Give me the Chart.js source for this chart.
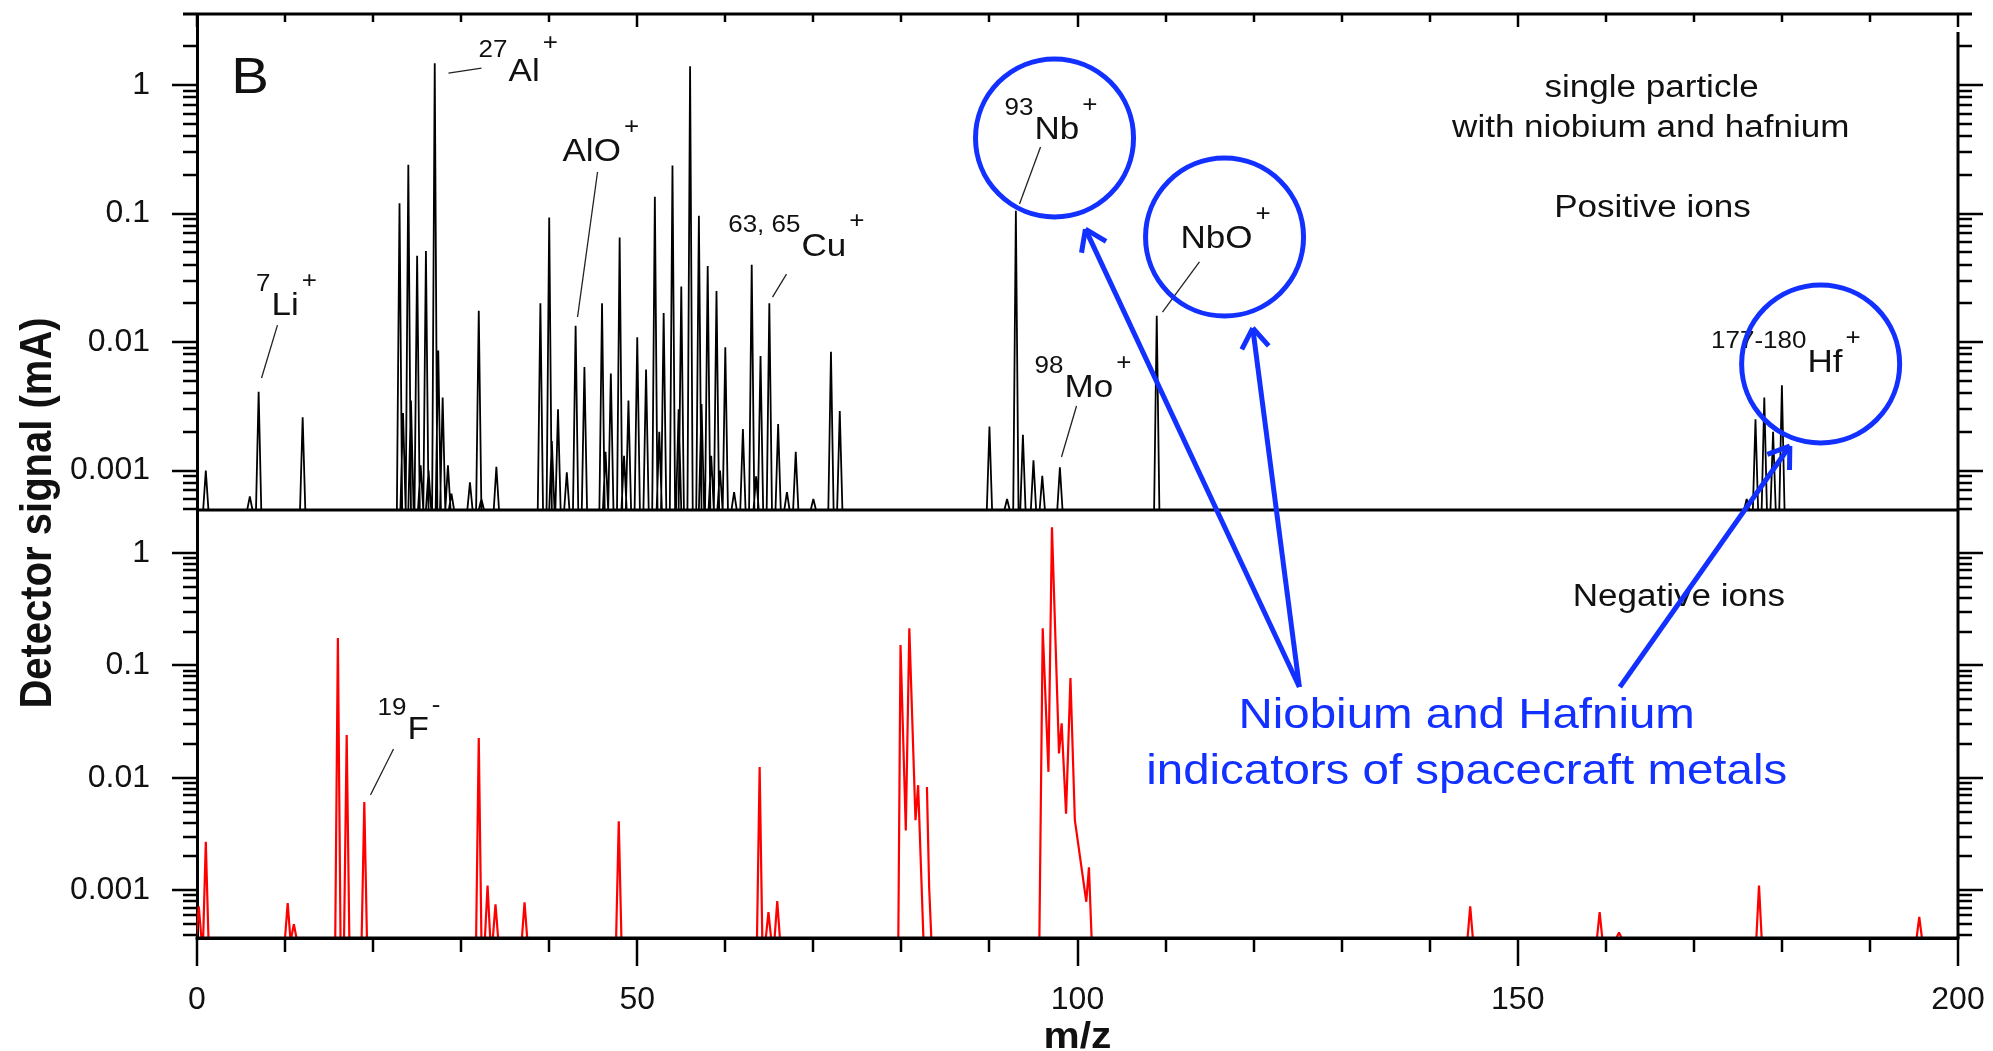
<!DOCTYPE html>
<html>
<head>
<meta charset="utf-8">
<title>Single particle spectrum with niobium and hafnium</title>
<script src="https://cdn.jsdelivr.net/npm/chart.js@4.4.1/dist/chart.umd.min.js"></script>
<style>
  html, body { margin: 0; padding: 0; background: #fff; }
  #spectrum { display: block; }
</style>
</head>
<body>
<canvas id="spectrum" width="1993" height="1051"></canvas>
<script>
// positive ions: peak position (m/z) and peak height (mA)
const posMz = [1, 6, 7, 12,
  23, 23.4, 24, 24.3, 25, 25.4, 26, 26.3, 27, 27.4, 27.9, 28.5, 28.9, 31, 32, 32.3, 34,
  39, 40, 40.3, 41, 42, 43, 44, 46, 46.4, 47, 48, 48.5, 49, 50, 51, 52, 52.5, 53, 54, 54.7, 55,
  56, 57, 57.3, 58, 58.4, 59, 59.4, 60, 61, 62, 63, 63.5, 64, 65, 66, 67, 68, 70, 72, 73,
  90, 92, 93, 93.8, 95, 96, 98, 109,
  176, 177, 178, 179, 180];
const posSignal = [0.001, 0.00063, 0.0041, 0.0026,
  0.12, 0.0028, 0.24, 0.0035, 0.047, 0.0011, 0.051, 0.001, 1.48, 0.0086, 0.0037, 0.0011, 0.00066, 0.00081, 0.0175, 0.0006, 0.00107,
  0.02, 0.093, 0.0017, 0.003, 0.00097, 0.0134, 0.0064, 0.02, 0.0014, 0.0057, 0.065, 0.0013, 0.0035, 0.0109, 0.0061, 0.135, 0.002, 0.0168, 0.236, 0.003, 0.027,
  1.4, 0.096, 0.0033, 0.039, 0.0013, 0.025, 0.001, 0.0091, 0.00068, 0.0021, 0.04, 0.0009, 0.0078, 0.02, 0.0023, 0.00068, 0.0014, 0.0006, 0.0084, 0.0029,
  0.0022, 0.0006, 0.105, 0.0019, 0.0012, 0.00091, 0.00106, 0.016,
  0.0006, 0.0025, 0.0037, 0.002, 0.0046];

// negative ions: isolated peaks
const negMz = [0.2, 1, 10.3, 11, 16, 17, 19, 32, 33, 33.9, 37.2, 47.9, 63.9, 64.9, 65.9,
  144.6, 159.3, 161.5, 177.4, 195.6];
const negSignal = [0.00072, 0.0027, 0.00077, 0.0005, 0.175, 0.024, 0.0061, 0.0226, 0.0011, 0.00075, 0.00078, 0.0041, 0.0125, 0.00064, 0.0008,
  0.00072, 0.00064, 0.00042, 0.0011, 0.00058];

// negative ions: the two clusters traced through their valleys (0 = baseline)
const negClusterMz = [79.65, 79.9, 80.5, 80.9, 81.6, 81.9, 82.5, 82.9, 83.15, 83.4,
  95.67, 96.05, 96.7, 97.1, 97.9, 98.2, 98.7, 99.2, 99.7, 101.0, 101.3, 101.6];
const negClusterSignal = [0, 0.152, 0.0034, 0.214, 0.0042, 0.0086, 0, 0.0083, 0.00107, 0,
  0, 0.214, 0.0113, 1.69, 0.0165, 0.0305, 0.0048, 0.077, 0.0042, 0.00079, 0.0016, 0];

const xTickValues = [0, 50, 100, 150, 200];
const yTickValues = [0.001, 0.01, 0.1, 1];

const POS_MIN = 0.000493, POS_MAX = 3.57;
const NEG_MIN = 0.000376, NEG_MAX = 2.41;
const PEAK_HALF = 0.3;

const FONT = "'Liberation Sans', Arial, sans-serif";
const STRETCH = 1.13;
const BLUE = '#1230ff';

function sticks(mz, signal, floor) {
  const pts = [];
  mz.forEach((m, i) => {
    pts.push({x: m - PEAK_HALF, y: floor}, {x: m, y: signal[i]},
             {x: m + PEAK_HALF, y: floor}, {x: m + PEAK_HALF, y: null});
  });
  return pts;
}

function trace(mz, signal, floor) {
  const pts = [];
  mz.forEach((m, i) => {
    pts.push({x: m, y: signal[i] > 0 ? signal[i] : floor});
    if (signal[i] === 0 && i > 0 && signal[i - 1] !== 0) pts.push({x: m, y: null});
  });
  return pts;
}

// annotation layout, in m/z and log10(signal) of the panel it sits on
const ionLabels = [
  {panel: 'yPos', pre: '7', main: 'Li', post: '+', at: [8.46, -1.79], lead: [[9.14, -1.868], [7.33, -2.28]]},
  {panel: 'yPos', pre: '27', main: 'Al', post: '+', at: [35.38, 0.031], lead: [[28.56, 0.093], [32.31, 0.132]], postRaise: 31},
  {panel: 'yPos', pre: '', main: 'AlO', post: '+', at: [41.51, -0.591], lead: [[45.49, -0.677], [43.22, -1.805]]},
  {panel: 'yPos', pre: '63, 65', main: 'Cu', post: '+', at: [68.65, -1.331], lead: [[66.95, -1.471], [65.36, -1.65]], postRaise: 28},
  {panel: 'yPos', pre: '93', main: 'Nb', post: '+', at: [95.12, -0.42], lead: [[95.8, -0.482], [93.41, -0.926]]},
  {panel: 'yPos', pre: '', main: 'NbO', post: '+', at: [111.7, -1.268], lead: [[113.85, -1.377], [109.65, -1.767]]},
  {panel: 'yPos', pre: '98', main: 'Mo', post: '+', at: [98.52, -2.428], lead: [[99.89, -2.498], [98.18, -2.895]]},
  {panel: 'yPos', pre: '177-180', main: 'Hf', post: '+', at: [182.9, -2.233]},
  {panel: 'yNeg', pre: '19', main: 'F', post: '-', at: [23.9, -1.655], lead: [[22.32, -1.744], [19.7, -2.153]]}
];
const circles = [[97.39, -0.412], [116.7, -1.183], [184.4, -2.171]];
const arrows = [
  [[125.2, -1.192], [100.9, -1.121]],
  [[125.2, -1.192], [119.9, -1.891]],
  [[161.6, -1.192], [180.9, -2.809]]
];

function text(ctx, str, px, py, size, opt = {}) {
  ctx.save();
  ctx.font = (opt.bold ? 'bold ' : '') + size + 'px ' + FONT;
  ctx.fillStyle = opt.color || '#111';
  ctx.textAlign = opt.align || 'left';
  ctx.textBaseline = 'alphabetic';
  ctx.translate(px, py);
  ctx.scale(STRETCH, 1);
  ctx.fillText(str, 0, 0);
  const w = ctx.measureText(str).width * STRETCH;
  ctx.restore();
  return w;
}

function seg(ctx, x1, y1, x2, y2, width, color) {
  ctx.save();
  ctx.lineWidth = width;
  ctx.strokeStyle = color || '#000';
  ctx.beginPath();
  ctx.moveTo(x1, y1);
  ctx.lineTo(x2, y2);
  ctx.stroke();
  ctx.restore();
}

function logTicks(scale) {
  const out = [];
  for (let e = -4; e <= 0; e++) {
    for (let m = 1; m <= 9; m++) {
      const v = m * Math.pow(10, e);
      if (v >= scale.min && v <= scale.max) out.push({v, major: m === 1});
    }
  }
  return out;
}

const decorations = {
  id: 'decorations',
  afterDraw(chart) {
    const {ctx, chartArea: a, scales} = chart;
    const xs = scales.x;
    const X = m => xs.getPixelForValue(m);
    const Y = (id, d) => scales[id].getPixelForValue(Math.pow(10, d));

    // axis ticks on both sides of each panel
    ['yPos', 'yNeg'].forEach(id => {
      const s = scales[id];
      logTicks(s).forEach(t => {
        const py = Math.round(s.getPixelForValue(t.v));
        if (py < s.top + 15) return;
        const len = t.major ? 25 : 14;
        seg(ctx, a.left - len, py, a.left, py, 2.5);
        seg(ctx, a.right, py, a.right + len, py, 2.5);
      });
    });
    for (let m = 0; m <= 200; m += 10) {
      const px = Math.round(X(m));
      const major = m % 50 === 0;
      seg(ctx, px, a.bottom, px, a.bottom + (major ? 28 : 14), 2.5);
      seg(ctx, px, a.top, px, a.top + (major ? 13 : 8), 2.5);
    }
    // frame
    seg(ctx, a.left - 14, a.top, a.right + 14, a.top, 3);
    seg(ctx, a.right, a.top + 18, a.right, a.bottom, 3);
    seg(ctx, a.left, scales.yPos.bottom, a.right, scales.yPos.bottom, 3);
    seg(ctx, a.left - 1.5, a.bottom, a.right + 1.5, a.bottom, 3);

    // axis titles
    ctx.save();
    ctx.translate(51, scales.yPos.bottom + 3);
    ctx.rotate(-Math.PI / 2);
    ctx.scale(1, STRETCH);
    ctx.font = 'bold 40px ' + FONT;
    ctx.fillStyle = '#111';
    ctx.textAlign = 'center';
    ctx.fillText('Detector signal (mA)', 0, 0);
    ctx.restore();
    text(ctx, 'm/z', X(100), chart.height - 3, 36, {bold: true, align: 'center'});

    // panel texts
    text(ctx, 'B', X(3.9), Y('yPos', -0.062), 50);
    text(ctx, 'single particle', X(165.2), Y('yPos', -0.093), 31, {align: 'center'});
    text(ctx, 'with niobium and hafnium', X(165.1), Y('yPos', -0.405), 31, {align: 'center'});
    text(ctx, 'Positive ions', X(165.3), Y('yPos', -1.027), 31, {align: 'center'});
    text(ctx, 'Negative ions', X(168.3), Y('yNeg', -0.472), 31, {align: 'center'});

    // ion labels with leader lines
    ionLabels.forEach(l => {
      const px = X(l.at[0]), py = Y(l.panel, l.at[1]);
      if (l.pre) text(ctx, l.pre, px - 1, py - (l.preRaise || 24), 23, {align: 'right'});
      const w = text(ctx, l.main, px, py, 31);
      text(ctx, l.post, px + w + 3, py - (l.postRaise || 27), 23);
      if (l.lead) {
        seg(ctx, X(l.lead[0][0]), Y(l.panel, l.lead[0][1]),
                 X(l.lead[1][0]), Y(l.panel, l.lead[1][1]), 1.3, '#222');
      }
    });

    // blue highlights
    circles.forEach(c => {
      ctx.save();
      ctx.lineWidth = 5;
      ctx.strokeStyle = BLUE;
      ctx.beginPath();
      ctx.arc(X(c[0]), Y('yPos', c[1]), 79, 0, Math.PI * 2);
      ctx.stroke();
      ctx.restore();
    });
    arrows.forEach(([from, to]) => {
      const x1 = X(from[0]), y1 = Y('yNeg', from[1]);
      const x2 = X(to[0]), y2 = Y('yPos', to[1]);
      seg(ctx, x1, y1, x2, y2, 5, BLUE);
      const ang = Math.atan2(y1 - y2, x1 - x2);
      [-0.6, 0.6].forEach(d => {
        seg(ctx, x2, y2, x2 + 24 * Math.cos(ang + d), y2 + 24 * Math.sin(ang + d), 5, BLUE);
      });
    });
    text(ctx, 'Niobium and Hafnium', X(144.2), Y('yNeg', -1.557), 42, {align: 'center', color: BLUE});
    text(ctx, 'indicators of spacecraft metals', X(144.2), Y('yNeg', -2.055), 42, {align: 'center', color: BLUE});
  }
};

function noPadding(s) {
  s.paddingTop = 0;
  s.paddingBottom = 0;
  s.paddingLeft = 0;
  s.paddingRight = 0;
}

function yScale(min, max, weight) {
  return {
    type: 'logarithmic',
    position: 'left',
    stack: 'panels',
    stackWeight: weight,
    weight: weight,
    min: min,
    max: max,
    afterBuildTicks: s => { s.ticks = yTickValues.map(v => ({value: v})); },
    afterFit: s => { s.width = 197; noPadding(s); },
    grid: {drawOnChartArea: false, drawTicks: false},
    border: {display: true, color: '#000', width: 3},
    ticks: {
      padding: 47,
      color: '#111',
      autoSkip: false,
      font: {family: FONT, size: 32},
      callback: v => String(v)
    }
  };
}

new Chart(document.getElementById('spectrum'), {
  type: 'line',
  data: {
    datasets: [
      {
        label: 'Positive ions',
        data: sticks(posMz, posSignal, POS_MIN),
        yAxisID: 'yPos',
        borderColor: '#000',
        borderWidth: 1.8,
        borderJoinStyle: 'bevel',
        pointRadius: 0,
        tension: 0
      },
      {
        label: 'Negative ions',
        data: sticks(negMz, negSignal, NEG_MIN),
        yAxisID: 'yNeg',
        borderColor: '#ff0000',
        borderWidth: 2.2,
        borderJoinStyle: 'bevel',
        pointRadius: 0,
        tension: 0
      },
      {
        label: 'Negative ion clusters',
        data: trace(negClusterMz, negClusterSignal, NEG_MIN),
        yAxisID: 'yNeg',
        borderColor: '#ff0000',
        borderWidth: 2.2,
        borderJoinStyle: 'bevel',
        pointRadius: 0,
        tension: 0
      }
    ]
  },
  options: {
    responsive: false,
    animation: false,
    events: [],
    layout: {autoPadding: false, padding: {left: 0, right: 35, top: 14, bottom: 0}},
    plugins: {legend: {display: false}, tooltip: {enabled: false}},
    scales: {
      x: {
        type: 'linear',
        position: 'bottom',
        min: 0,
        max: 200,
        afterBuildTicks: s => { s.ticks = xTickValues.map(v => ({value: v})); },
        afterFit: s => { s.height = 113; noPadding(s); },
        grid: {drawOnChartArea: false, drawTicks: false},
        border: {display: true, color: '#000', width: 3},
        ticks: {
          padding: 43,
          color: '#111',
          autoSkip: false,
          maxRotation: 0,
          font: {family: FONT, size: 32},
          callback: v => String(v)
        }
      },
      yPos: yScale(POS_MIN, POS_MAX, 496),
      yNeg: yScale(NEG_MIN, NEG_MAX, 428)
    }
  },
  plugins: [decorations]
});
</script>
</body>
</html>
